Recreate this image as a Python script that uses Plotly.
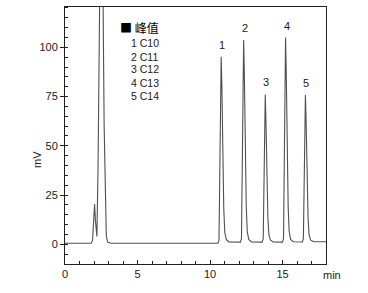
import plotly.graph_objects as go

# Chromatogram trace (time in min, signal in mV)
time_min = [0.0, 1.0, 1.8, 1.9, 1.97, 2.04, 2.1, 2.16, 2.2, 2.28, 2.36, 2.45, 2.55, 2.63,
            2.7, 2.78, 2.85, 2.95, 3.2, 5.0, 8.0, 10.55,
            10.62, 10.68, 10.74, 10.77, 10.82, 10.88, 10.95, 11.02, 11.12, 11.3, 12.1,
            12.17, 12.23, 12.29, 12.32, 12.37, 12.43, 12.5, 12.57, 12.67, 12.85, 13.6,
            13.67, 13.73, 13.78, 13.81, 13.86, 13.92, 13.99, 14.06, 14.16, 14.35, 15.0,
            15.07, 15.13, 15.18, 15.21, 15.26, 15.32, 15.39, 15.46, 15.56, 15.75, 16.37,
            16.44, 16.5, 16.55, 16.58, 16.63, 16.69, 16.76, 16.83, 16.93, 17.15, 18.0]
signal_mv = [0.5, 0.5, 0.5, 2.0, 12.0, 20.5, 12.0, 5.0, 4.0, 40.0, 120.0, 170.0, 150.0, 120.0,
             60.0, 15.0, 4.0, 1.0, 0.5, 0.5, 0.6, 0.6,
             2.0, 40.0, 85.0, 95.2, 80.0, 45.0, 18.0, 6.0, 2.5, 1.2, 1.1,
             3.0, 45.0, 92.0, 103.7, 86.0, 48.0, 19.0, 6.5, 2.5, 1.2, 1.1,
             3.0, 35.0, 68.0, 76.1, 62.0, 35.0, 14.0, 5.0, 2.2, 1.2, 1.1,
             3.0, 45.0, 93.0, 105.0, 87.0, 49.0, 19.0, 6.5, 2.5, 1.3, 1.2,
             3.0, 35.0, 67.0, 75.8, 62.0, 35.0, 14.0, 5.0, 2.2, 1.3, 1.3]

peak_ids = ["1", "2", "3", "4", "5"]
peak_times = [10.77, 12.32, 13.81, 15.21, 16.58]
peak_heights = [95.2, 103.7, 76.1, 105.0, 75.8]

legend_title = "■ 峰值"
legend_items = ["1 C10", "2 C11", "3 C12", "4 C13", "5 C14"]

x_ticks = [0, 5, 10, 15]
y_ticks = [0, 25, 50, 75, 100]

FONT = "Liberation Sans, Arial, sans-serif"
TXT = "#1a1a1a"

fig = go.Figure()
fig.add_trace(go.Scatter(x=time_min, y=signal_mv, mode="lines",
                         line=dict(color="#505050", width=1.1),
                         hoverinfo="skip", showlegend=False))

annotations = []
for pid, t, h in zip(peak_ids, peak_times, peak_heights):
    annotations.append(dict(x=t, y=h, xref="x", yref="y", text=pid, showarrow=False,
                            yanchor="bottom", yshift=4, xshift=1,
                            font=dict(family=FONT, size=11, color=TXT)))

annotations.append(dict(x=0.203, y=0.92, xref="paper", yref="paper", text=legend_title,
                        showarrow=False, xanchor="left", yanchor="middle",
                        font=dict(family="Noto Sans CJK SC, " + FONT, size=12, color="#000")))
legend_y = [0.858, 0.807, 0.757, 0.706, 0.654]
for item, yy in zip(legend_items, legend_y):
    annotations.append(dict(x=0.245, y=yy, xref="paper", yref="paper", text=item,
                            showarrow=False, xanchor="left", yanchor="middle",
                            font=dict(family=FONT, size=10.5, color=TXT)))

annotations.append(dict(x=-0.107, y=0.405, xref="paper", yref="paper", text="mV",
                        textangle=-90, showarrow=False, xanchor="center", yanchor="middle",
                        font=dict(family=FONT, size=11, color=TXT)))
annotations.append(dict(x=1.023, y=-0.043, xref="paper", yref="paper", text="min",
                        showarrow=False, xanchor="center", yanchor="middle",
                        font=dict(family=FONT, size=11, color=TXT)))

fig.update_layout(
    width=368, height=293,
    margin=dict(l=65, r=42, t=7, b=29),
    paper_bgcolor="white", plot_bgcolor="white",
    annotations=annotations,
    xaxis=dict(range=[0, 18], tickvals=x_ticks, showgrid=False, zeroline=False,
               showline=True, linecolor="#222", linewidth=1, mirror=True,
               ticks="inside", ticklen=4, tickcolor="#222",
               minor=dict(ticks="inside", dtick=1, ticklen=3, tickcolor="#222"),
               tickfont=dict(family=FONT, size=11, color=TXT)),
    yaxis=dict(range=[-10, 120.5], tickvals=y_ticks, showgrid=False, zeroline=False,
               showline=True, linecolor="#222", linewidth=1, mirror=True,
               ticks="outside", ticklen=4, tickcolor="#222",
               minor=dict(ticks="inside", dtick=5, ticklen=3, tickcolor="#222"),
               tickfont=dict(family=FONT, size=11, color=TXT)),
)

fig.write_html("out.html")
